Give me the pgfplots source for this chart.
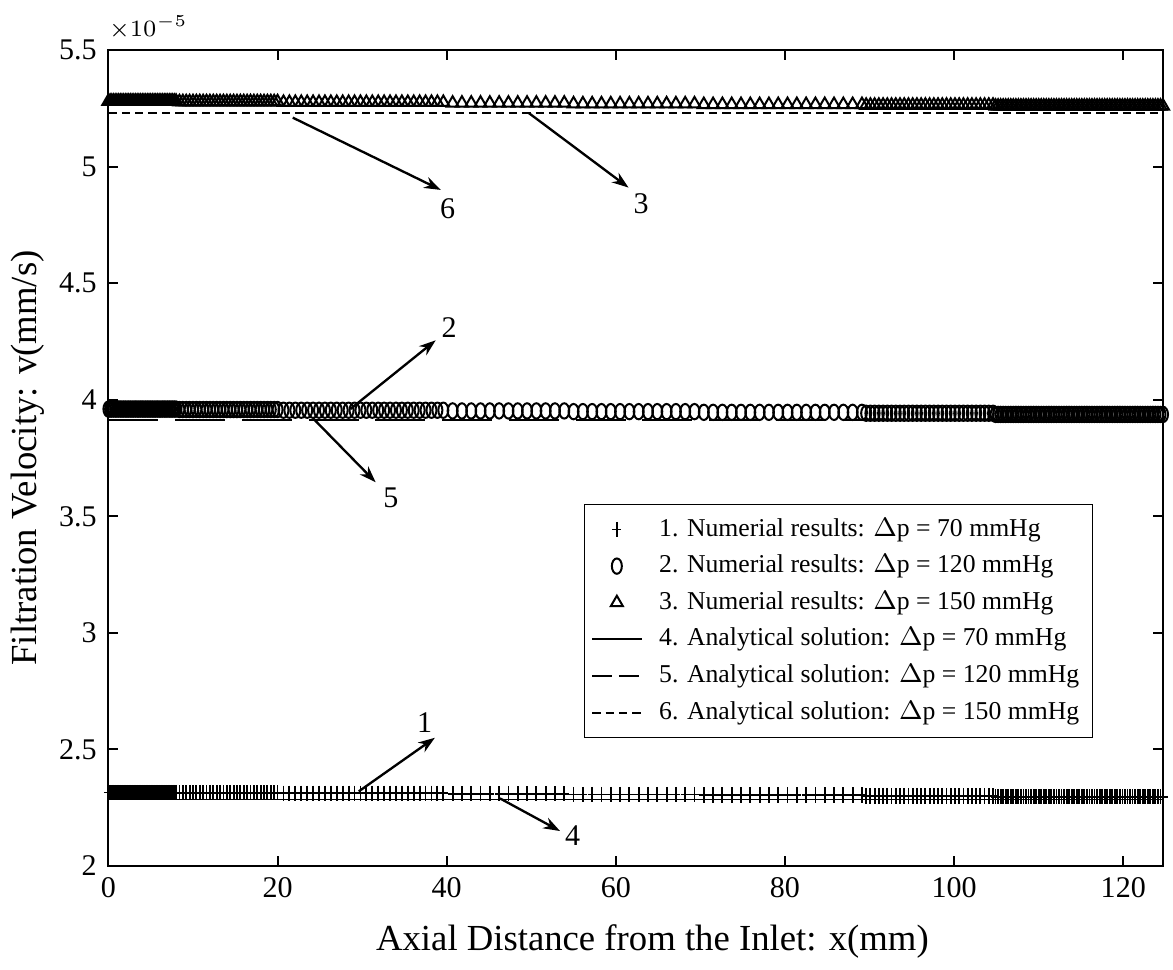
\documentclass[border=0pt]{standalone}
\usepackage{fontspec}
\setmainfont{Liberation Serif}
\usepackage{pgfplots}
\usepackage{pgfplotstable}
\pgfplotsset{compat=1.18}
\usetikzlibrary{arrows.meta}

\pgfplotsset{
  short legend/.style={legend image code/.code={\draw[##1] (0.04cm,0cm) -- (0.56cm,0cm);}},
  short dashed legend/.style={legend image code/.code={\draw[##1, dash pattern=on 6pt off 2pt] (0.04cm,0cm) -- (0.56cm,0cm);}},
}

% numerical results (velocity in units of 1e-5 mm/s)
% x  plus(70)  circle(120)  triangle(150)
\pgfplotstableread{
x y1 y2 y3
0 2.315 3.960 5.280
0.2 2.315 3.960 5.280
0.4 2.315 3.960 5.280
0.6 2.315 3.960 5.280
0.8 2.315 3.960 5.280
1 2.315 3.960 5.280
1.2 2.315 3.960 5.280
1.4 2.315 3.960 5.280
1.6 2.315 3.960 5.280
1.8 2.315 3.960 5.280
2 2.315 3.960 5.280
2.2 2.315 3.960 5.280
2.4 2.315 3.960 5.280
2.6 2.315 3.960 5.280
2.8 2.315 3.960 5.280
3 2.315 3.960 5.280
3.2 2.315 3.960 5.280
3.4 2.315 3.960 5.280
3.6 2.315 3.960 5.280
3.8 2.315 3.960 5.280
4 2.315 3.960 5.280
4.2 2.315 3.960 5.280
4.4 2.315 3.960 5.280
4.6 2.315 3.960 5.280
4.8 2.315 3.960 5.280
5 2.315 3.960 5.280
5.2 2.315 3.960 5.280
5.4 2.315 3.960 5.280
5.6 2.315 3.960 5.280
5.8 2.315 3.960 5.280
6 2.315 3.960 5.280
6.2 2.315 3.960 5.280
6.4 2.315 3.960 5.280
6.6 2.315 3.960 5.280
6.8 2.315 3.960 5.280
7 2.315 3.960 5.280
7.2 2.315 3.960 5.280
7.4 2.315 3.960 5.280
7.6 2.315 3.960 5.280
7.8 2.315 3.960 5.280
8 2.315 3.960 5.280
8.4 2.314 3.958 5.278
8.8 2.314 3.958 5.278
9.2 2.314 3.958 5.278
9.6 2.314 3.958 5.278
10 2.314 3.958 5.278
10.4 2.314 3.958 5.278
10.8 2.314 3.958 5.278
11.2 2.314 3.958 5.278
11.6 2.314 3.958 5.278
12 2.314 3.958 5.278
12.4 2.314 3.958 5.278
12.8 2.314 3.958 5.278
13.2 2.314 3.958 5.278
13.6 2.314 3.958 5.278
14 2.314 3.958 5.278
14.4 2.314 3.958 5.278
14.8 2.314 3.958 5.278
15.2 2.314 3.958 5.278
15.6 2.314 3.958 5.278
16 2.314 3.958 5.278
16.4 2.314 3.958 5.278
16.8 2.314 3.958 5.278
17.2 2.314 3.958 5.278
17.6 2.314 3.958 5.278
18 2.314 3.958 5.278
18.4 2.314 3.958 5.278
18.8 2.314 3.958 5.278
19.2 2.314 3.958 5.278
19.6 2.314 3.958 5.278
20 2.314 3.958 5.278
20.7 2.312 3.955 5.275
21.4 2.312 3.955 5.275
22.1 2.312 3.955 5.275
22.8 2.312 3.955 5.275
23.5 2.312 3.955 5.275
24.2 2.312 3.955 5.275
24.9 2.312 3.955 5.275
25.6 2.312 3.955 5.275
26.3 2.312 3.955 5.275
27 2.312 3.955 5.275
27.7 2.312 3.955 5.275
28.4 2.312 3.955 5.275
29.1 2.312 3.955 5.275
29.8 2.312 3.955 5.275
30.5 2.312 3.955 5.275
31.2 2.312 3.955 5.275
31.9 2.312 3.955 5.275
32.6 2.312 3.955 5.275
33.3 2.312 3.955 5.275
34 2.312 3.955 5.275
34.7 2.312 3.955 5.275
35.4 2.312 3.955 5.275
36.1 2.312 3.955 5.275
36.8 2.312 3.955 5.275
37.5 2.312 3.955 5.275
38.2 2.312 3.955 5.275
38.9 2.312 3.955 5.275
39.6 2.312 3.955 5.275
40.7 2.310 3.952 5.272
41.8 2.310 3.952 5.272
42.9 2.310 3.952 5.272
44 2.310 3.952 5.272
45.1 2.310 3.952 5.272
46.2 2.310 3.952 5.272
47.3 2.310 3.952 5.272
48.4 2.310 3.952 5.272
49.5 2.310 3.952 5.272
50.6 2.310 3.952 5.272
51.7 2.310 3.952 5.272
52.8 2.310 3.952 5.272
53.9 2.310 3.952 5.272
55 2.307 3.949 5.269
56.1 2.307 3.949 5.269
57.2 2.307 3.949 5.269
58.3 2.307 3.949 5.269
59.4 2.307 3.949 5.269
60.5 2.307 3.949 5.269
61.6 2.307 3.949 5.269
62.7 2.307 3.949 5.269
63.8 2.307 3.949 5.269
64.9 2.307 3.949 5.269
66 2.307 3.949 5.269
67.1 2.307 3.949 5.269
68.2 2.307 3.949 5.269
69.3 2.307 3.949 5.269
70.4 2.304 3.946 5.266
71.5 2.304 3.946 5.266
72.6 2.304 3.946 5.266
73.7 2.304 3.946 5.266
74.8 2.304 3.946 5.266
75.9 2.304 3.946 5.266
77 2.304 3.946 5.266
78.1 2.304 3.946 5.266
79.2 2.304 3.946 5.266
80.3 2.304 3.946 5.266
81.4 2.304 3.946 5.266
82.5 2.304 3.946 5.266
83.6 2.304 3.946 5.266
84.7 2.304 3.946 5.266
85.8 2.304 3.946 5.266
86.9 2.304 3.946 5.266
88 2.304 3.946 5.266
89.1 2.304 3.946 5.266
89.6 2.301 3.942 5.263
90.1 2.301 3.942 5.263
90.6 2.301 3.942 5.263
91.1 2.301 3.942 5.263
91.6 2.301 3.942 5.263
92.1 2.301 3.942 5.263
92.6 2.301 3.942 5.263
93.1 2.301 3.942 5.263
93.6 2.301 3.942 5.263
94.1 2.301 3.942 5.263
94.6 2.301 3.942 5.263
95.1 2.301 3.942 5.263
95.6 2.301 3.942 5.263
96.1 2.301 3.942 5.263
96.6 2.301 3.942 5.263
97.1 2.301 3.942 5.263
97.6 2.301 3.942 5.263
98.1 2.301 3.942 5.263
98.6 2.301 3.942 5.263
99.1 2.301 3.942 5.263
99.6 2.301 3.942 5.263
100.1 2.301 3.942 5.263
100.6 2.301 3.942 5.263
101.1 2.301 3.942 5.263
101.6 2.301 3.942 5.263
102.1 2.301 3.942 5.263
102.6 2.301 3.942 5.263
103.1 2.301 3.942 5.263
103.6 2.301 3.942 5.263
104.1 2.301 3.942 5.263
104.6 2.301 3.942 5.263
104.9 2.297 3.937 5.259
105.2 2.297 3.937 5.259
105.5 2.297 3.937 5.259
105.8 2.297 3.937 5.259
106.1 2.297 3.937 5.259
106.4 2.297 3.937 5.259
106.7 2.297 3.937 5.259
107 2.297 3.937 5.259
107.3 2.297 3.937 5.259
107.6 2.297 3.937 5.259
107.9 2.297 3.937 5.259
108.2 2.297 3.937 5.259
108.5 2.297 3.937 5.259
108.8 2.297 3.937 5.259
109.1 2.297 3.937 5.259
109.4 2.297 3.937 5.259
109.7 2.297 3.937 5.259
110 2.297 3.937 5.259
110.3 2.297 3.937 5.259
110.6 2.297 3.937 5.259
110.9 2.297 3.937 5.259
111.2 2.297 3.937 5.259
111.5 2.297 3.937 5.259
111.8 2.297 3.937 5.259
112.1 2.297 3.937 5.259
112.4 2.297 3.937 5.259
112.7 2.297 3.937 5.259
113 2.297 3.937 5.259
113.3 2.297 3.937 5.259
113.6 2.297 3.937 5.259
113.9 2.297 3.937 5.259
114.2 2.297 3.937 5.259
114.5 2.297 3.937 5.259
114.8 2.297 3.937 5.259
115.1 2.297 3.937 5.259
115.4 2.297 3.937 5.259
115.7 2.297 3.937 5.259
116 2.297 3.937 5.259
116.3 2.297 3.937 5.259
116.6 2.297 3.937 5.259
116.9 2.297 3.937 5.259
117.2 2.297 3.937 5.259
117.5 2.297 3.937 5.259
117.8 2.297 3.937 5.259
118.1 2.297 3.937 5.259
118.4 2.297 3.937 5.259
118.7 2.297 3.937 5.259
119 2.297 3.937 5.259
119.3 2.297 3.937 5.259
119.6 2.297 3.937 5.259
119.9 2.297 3.937 5.259
120.2 2.297 3.937 5.259
120.5 2.297 3.937 5.259
120.8 2.297 3.937 5.259
121.1 2.297 3.937 5.259
121.4 2.297 3.937 5.259
121.7 2.297 3.937 5.259
122 2.297 3.937 5.259
122.3 2.297 3.937 5.259
122.6 2.297 3.937 5.259
122.9 2.297 3.937 5.259
123.2 2.297 3.937 5.259
123.5 2.297 3.937 5.259
123.8 2.297 3.937 5.259
124.1 2.297 3.937 5.259
124.4 2.297 3.937 5.259
124.7 2.297 3.937 5.259
}\numres

\begin{document}
\begin{tikzpicture}
\begin{axis}[
    scale only axis,
    width=316pt, height=244.5pt,
    xmin=0, xmax=124.7,
    ymin=2, ymax=5.5,
    xtick={0,20,...,120},
    ytick={2,2.5,...,5.5},
    tick align=inside,
    tick pos=both,
    major tick length=3pt,
    axis line style={line width=0.6pt},
    every tick/.style={black, line width=0.6pt},
    /pgf/number format/assume math mode=true,
    tick label style={font=\fontsize{9}{10}\selectfont},
    xlabel={Axial Distance from the Inlet: x(mm)},
    ylabel={Filtration Velocity: v(mm/s)},
    label style={font=\fontsize{11}{12}\selectfont},
    xlabel style={yshift=-1pt, xshift=5pt},
    ylabel style={yshift=-2.5pt},
    legend style={
        at={(0.934,0.444)}, anchor=north east,
        font=\fontsize{7.7}{9}\selectfont,
        draw=black, line width=0.5pt,
        row sep=0pt, column sep=3pt, inner xsep=2pt,
        cells={anchor=west},
    },
    legend cell align=left,
    clip mode=individual,
]
\addplot[only marks, mark=+, mark size=2.3pt,
         mark options={black, line width=0.55pt, xscale=0.6}]
    table[x=x, y=y1] {\numres};
\addlegendentry{1. Numerial results: $\Delta$p = 70 mmHg}
\addplot[only marks, mark=o, mark size=2.3pt,
         mark options={black, line width=0.6pt, xscale=0.65}]
    table[x=x, y=y2] {\numres};
\addlegendentry{2. Numerial results: $\Delta$p = 120 mmHg}
\addplot[only marks, mark=triangle, mark size=2.1pt,
         mark options={black, line width=0.6pt}]
    table[x=x, y=y3] {\numres};
\addlegendentry{3. Numerial results: $\Delta$p = 150 mmHg}
\addplot[black, line width=0.5pt, short legend]
    coordinates {(0,2.285) (124.7,2.285)};
\addlegendentry{4. Analytical solution: $\Delta$p = 70 mmHg}
\addplot[black, line width=0.5pt, dash pattern=on 15pt off 5pt, short dashed legend]
    coordinates {(0,3.912) (124.7,3.912)};
\addlegendentry{5. Analytical solution: $\Delta$p = 120 mmHg}
\addplot[black, line width=0.6pt, dash pattern=on 2.5pt off 1.5pt, short legend]
    coordinates {(0,5.229) (124.7,5.229)};
\addlegendentry{6. Analytical solution: $\Delta$p = 150 mmHg}

% annotation arrows
\begin{scope}[-{Stealth[length=5pt,width=3.5pt]}, line width=0.7pt]
\draw (axis cs:21.8,5.21) -- (axis cs:39.3,4.90);
\draw (axis cs:49.7,5.23) -- (axis cs:61.5,4.91);
\draw (axis cs:28.6,3.96) -- (axis cs:38.7,4.255);
\draw (axis cs:24.2,3.92) -- (axis cs:31.6,3.646);
\draw (axis cs:29.6,2.32) -- (axis cs:38.6,2.55);
\draw (axis cs:46.3,2.29) -- (axis cs:53.4,2.15);
\end{scope}
\begin{scope}[font=\fontsize{9}{10}\selectfont]
\node at (axis cs:40.1,4.82) {6};
\node at (axis cs:63.0,4.84) {3};
\node at (axis cs:40.3,4.31) {2};
\node at (axis cs:33.4,3.58) {5};
\node at (axis cs:37.4,2.615) {1};
\node at (axis cs:54.9,2.13) {4};
\end{scope}
\node[anchor=south west, inner sep=0pt, font=\fontsize{7.2}{8}\selectfont]
    at (rel axis cs:0,1) [yshift=3pt] {$\times10^{-5}$};
\end{axis}
\path (current axis.north east) ++(3pt,15pt);
\end{tikzpicture}
\end{document}
